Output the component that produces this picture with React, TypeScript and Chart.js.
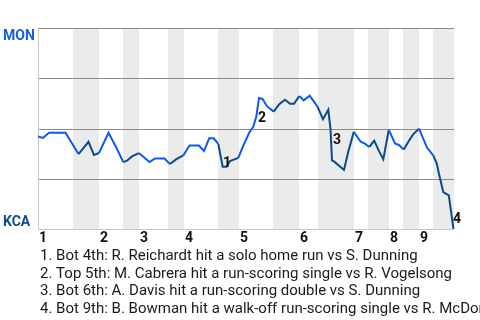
import React, { useEffect, useRef } from "react";
import { Chart, registerables } from "chart.js";

Chart.register(...registerables);

// Game progress (x) and MON win probability % (y)
const progress = [
  0, 5, 11, 27.5, 40.5, 50.5, 56, 61, 70.5, 78.5, 85.3, 89, 94, 100.8, 111.5, 117,
  126.5, 132, 138, 145.3, 151.5, 160.8, 166, 171.2, 175.7, 180.3, 184.7, 188.5, 192,
  200.3, 205.3, 211.3, 215.3, 218.3, 221, 224.5, 229, 235.7, 241, 247, 252, 256,
  261.3, 265.7, 271.7, 279.5, 285, 290.3, 292.5, 294, 296.3, 306, 310.3, 315.8,
  322.7, 326.5, 331.3, 336.2, 341.3, 345.3, 350.8, 357, 360.8, 365.8, 370.3, 375.3,
  381, 389, 395.2, 398.7, 401, 405.3, 410.8, 415.5,
];
const winProb = [
  46.0, 45.3, 47.9, 47.9, 37.3, 43.4, 36.8, 37.8, 47.9, 40.3, 33.3, 34.0, 36.1, 37.8,
  33.3, 35.1, 35.1, 32.3, 34.6, 36.6, 41.5, 41.5, 38.8, 45.1, 45.1, 42.3, 31.0, 31.0,
  33.8, 35.4, 41.5, 48.0, 50.9, 55.9, 65.2, 64.7, 61.1, 58.4, 62.0, 64.3, 62.3, 62.3,
  66.2, 64.0, 66.3, 60.9, 54.6, 59.3, 49.8, 34.1, 33.5, 29.4, 38.5, 48.4, 43.4, 42.6,
  40.8, 43.9, 38.5, 34.7, 49.3, 42.6, 41.8, 39.6, 43.4, 47.2, 49.9, 40.5, 36.6, 32.7,
  27.4, 18.4, 16.7, 0,
];
const progressMax = 416;

// Half-inning start positions (top 1, bot 1, top 2, ...)
const halfInningStarts = [0, 35, 61, 85, 101, 130, 146, 180, 201, 235, 261, 280, 316, 330, 351, 365, 381, 395];
const inningLabels = ["1", "2", "3", "4", "5", "6", "7", "8", "9"];

const teamTop = "MON";
const teamBottom = "KCA";

const eventMarks = ["1", "2", "3", "4"];
const eventX = [185, 220, 295, 415];
const eventY = [32.8, 55.0, 43.8, 4.5];

const captions = [
  "1. Bot 4th: R. Reichardt hit a solo home run vs S. Dunning",
  "2. Top 5th: M. Cabrera hit a run-scoring single vs R. Vogelsong",
  "3. Bot 6th: A. Davis hit a run-scoring double vs S. Dunning",
  "4. Bot 9th: B. Bowman hit a walk-off run-scoring single vs R. McDonald",
];

const BRIGHT = "#0a5ce8";
const DARK = "#0d4a8a";
const FONT = "Roboto, 'Liberation Sans', sans-serif";

function isBottomHalf(x: number): boolean {
  let idx = 0;
  for (let i = 0; i < halfInningStarts.length; i++) {
    if (x >= halfInningStarts[i]) idx = i;
  }
  return idx % 2 === 1;
}

const decorPlugin = {
  id: "decor",
  beforeDatasetsDraw(chart: any) {
    const { ctx, chartArea, scales } = chart;
    const xs = scales.x;
    const ys = scales.y;
    ctx.save();
    ctx.fillStyle = "#ebebeb";
    for (let i = 1; i < halfInningStarts.length; i += 2) {
      const x0 = xs.getPixelForValue(halfInningStarts[i]);
      const x1 = xs.getPixelForValue(i + 1 < halfInningStarts.length ? halfInningStarts[i + 1] : progressMax);
      ctx.fillRect(x0, chartArea.top, x1 - x0, chartArea.bottom - chartArea.top);
    }
    ctx.lineWidth = 1;
    ctx.strokeStyle = "#8a8a8a";
    [25, 50, 75, 100].forEach((v) => {
      const y = Math.round(ys.getPixelForValue(v)) + 0.5;
      ctx.beginPath();
      ctx.moveTo(chartArea.left, y);
      ctx.lineTo(chartArea.right, y);
      ctx.stroke();
    });
    ctx.strokeStyle = "#c8c8c8";
    const yb = Math.round(ys.getPixelForValue(0)) + 0.5;
    ctx.beginPath();
    ctx.moveTo(chartArea.left, yb);
    ctx.lineTo(chartArea.right, yb);
    ctx.stroke();
    const xl = Math.round(chartArea.left) + 0.5;
    ctx.beginPath();
    ctx.moveTo(xl, chartArea.top);
    ctx.lineTo(xl, chartArea.bottom);
    ctx.stroke();
    ctx.restore();
  },
  afterDatasetsDraw(chart: any) {
    const { ctx, chartArea, scales } = chart;
    const xs = scales.x;
    const ys = scales.y;
    ctx.save();
    ctx.font = `bold 14px ${FONT}`;
    ctx.textAlign = "left";
    ctx.textBaseline = "alphabetic";
    ctx.fillStyle = "#1060e0";
    ctx.fillText(teamTop, 3, chartArea.top + 12);
    ctx.fillStyle = "#114c8a";
    ctx.fillText(teamBottom, 3, chartArea.bottom - 3);
    ctx.fillStyle = "#111";
    ctx.textBaseline = "middle";
    eventMarks.forEach((m, i) => {
      ctx.fillText(m, xs.getPixelForValue(eventX[i]), ys.getPixelForValue(eventY[i]));
    });
    ctx.font = `bold 14px ${FONT}`;
    ctx.textBaseline = "alphabetic";
    inningLabels.forEach((lab, i) => {
      ctx.fillText(lab, xs.getPixelForValue(halfInningStarts[i * 2]) + 1, chartArea.bottom + 13);
    });
    ctx.font = `15px ${FONT}`;
    ctx.fillStyle = "#1a1a1a";
    captions.forEach((c, i) => {
      ctx.fillText(c, chartArea.left + 2, chartArea.bottom + 31 + i * 17.6);
    });
    ctx.restore();
  },
};

export default function App() {
  const ref = useRef<HTMLCanvasElement | null>(null);
  useEffect(() => {
    if (!ref.current) return;
    const chart = new Chart(ref.current, {
      type: "line",
      data: {
        datasets: [
          {
            data: progress.map((x, i) => ({ x, y: winProb[i] })),
            borderColor: BRIGHT,
            borderWidth: 2,
            pointRadius: 0,
            tension: 0,
            fill: false,
            clip: false as any,
            segment: {
              borderColor: (c: any) =>
                isBottomHalf((c.p0.parsed.x + c.p1.parsed.x) / 2) ? DARK : BRIGHT,
            },
          },
        ],
      },
      options: {
        responsive: false,
        animation: false,
        layout: { padding: { left: 38, right: 26, top: 28, bottom: 91 } },
        plugins: { legend: { display: false }, tooltip: { enabled: false } },
        scales: {
          x: { type: "linear", min: 0, max: progressMax, display: false },
          y: { type: "linear", min: 0, max: 100, display: false },
        },
      },
      plugins: [decorPlugin],
    });
    return () => chart.destroy();
  }, []);
  return (
    <div style={{ position: "absolute", left: 0, top: 0, width: 480, height: 320, background: "#fff" }}>
      <canvas ref={ref} width={480} height={320} />
    </div>
  );
}
